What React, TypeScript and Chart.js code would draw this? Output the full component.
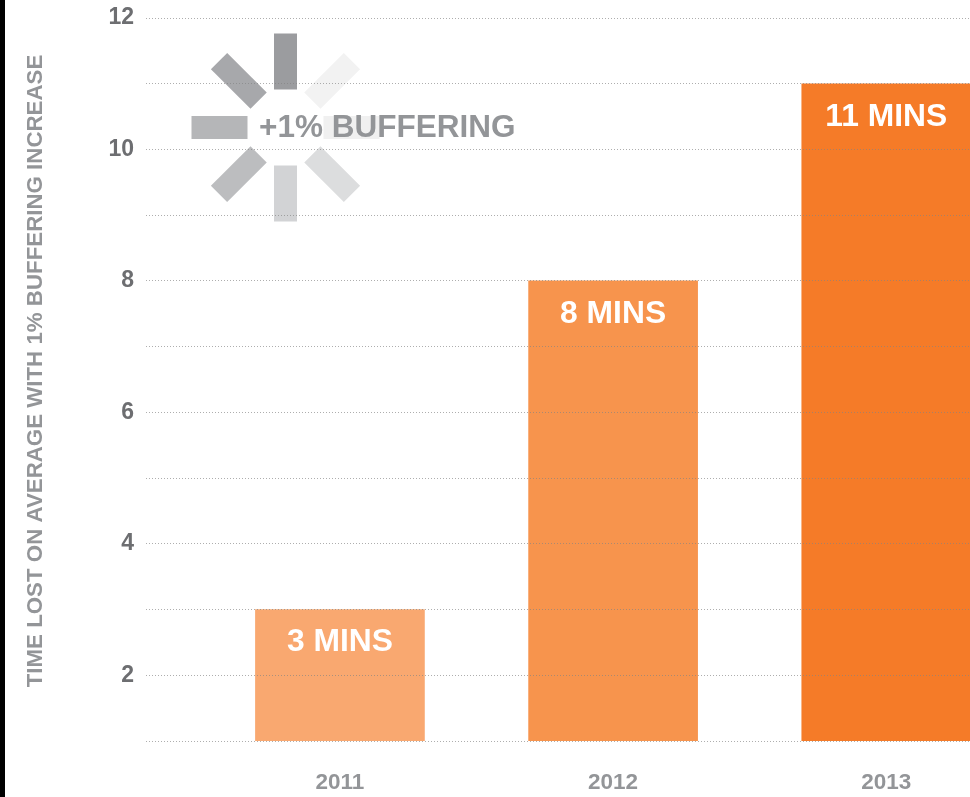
import React, { useEffect, useRef } from "react";
import { Chart, registerables } from "chart.js";

Chart.register(...registerables);

const years = [2011, 2012, 2013];
const minutes = [3, 8, 11];
const barColors = ["#f9a870", "#f7944d", "#f57b28"];
const barLabels = ["3 MINS", "8 MINS", "11 MINS"];
const yTickLabels = [2, 4, 6, 8, 10, 12];
const axisTitle = "TIME LOST ON AVERAGE WITH 1% BUFFERING INCREASE";
const badgeText = "+1% BUFFERING";
const spokeColors = ["#9b9c9f", "#f2f2f2", "#f0f0f0", "#dcddde", "#d2d3d5", "#bcbdbf", "#b5b6b8", "#a7a8ab"];

const FONT = '"Liberation Sans", Arial, sans-serif';

const overlay = {
  id: "overlay",
  afterDatasetsDraw(chart: any) {
    const { ctx } = chart;
    ctx.save();
    // spinner
    const cx = 285.5, cy = 127.5;
    spokeColors.forEach((c, i) => {
      ctx.save();
      ctx.translate(cx, cy);
      ctx.rotate((i * Math.PI) / 4);
      ctx.fillStyle = c;
      ctx.fillRect(-11.5, -94, 23, 56);
      ctx.restore();
    });
    ctx.fillStyle = "#939598";
    ctx.font = `bold 31.5px ${FONT}`;
    ctx.textAlign = "left";
    ctx.textBaseline = "middle";
    ctx.fillText(badgeText, 259, 128);
    // axis title
    ctx.save();
    ctx.translate(36, 371);
    ctx.rotate(-Math.PI / 2);
    ctx.textAlign = "center";
    ctx.font = `bold 22.3px ${FONT}`;
    ctx.fillText(axisTitle, 0, 0);
    ctx.restore();
    // value labels
    const meta = chart.getDatasetMeta(0);
    ctx.fillStyle = "#ffffff";
    ctx.font = `bold 31.8px ${FONT}`;
    ctx.textAlign = "center";
    meta.data.forEach((el: any, i: number) => {
      ctx.fillText(barLabels[i], el.x, el.y + 33);
    });
    ctx.restore();
  },
};

export default function App() {
  const ref = useRef<HTMLCanvasElement>(null);
  useEffect(() => {
    const chart = new Chart(ref.current!, {
      type: "bar",
      data: {
        datasets: [
          {
            data: years.map((y, i) => ({ x: y, y: minutes[i] })),
            backgroundColor: barColors,
            barThickness: 169,
            borderWidth: 0,
          },
        ],
      },
      options: {
        animation: false,
        responsive: false,
        layout: { padding: { top: 18, left: 0, right: 0, bottom: 0 } },
        plugins: { legend: { display: false }, tooltip: { enabled: false } },
        scales: {
          x: {
            type: "linear",
            offset: false,
            min: 2010.29,
            max: 2013.3065,
            border: { display: false },
            grid: { display: false, drawTicks: false },
            afterFit(s: any) {
              s.height = 56;
              s.paddingLeft = 0;
              s.paddingRight = 0;
            },
            ticks: {
              stepSize: 1,
              includeBounds: false,
              maxRotation: 0,
              color: "#939598",
              padding: 28,
              font: { family: FONT, size: 22.5, weight: "bold" },
              callback: (v: any) => (years.includes(Number(v)) ? String(v) : ""),
            },
          },
          y: {
            type: "linear",
            min: 1,
            max: 12,
            border: { display: false, dash: [1, 2] },
            grid: {
              color: "rgba(130,130,130,0.65)",
              lineWidth: 1,
              drawTicks: false,
              z: 1,
            },
            afterFit(s: any) {
              s.width = 146;
              s.paddingTop = 0;
              s.paddingBottom = 0;
            },
            ticks: {
              stepSize: 1,
              color: "#6d6e71",
              padding: 12,
              font: { family: FONT, size: 23, weight: "bold" },
              callback: (v: any) => (yTickLabels.includes(Number(v)) ? String(v) : ""),
            },
          },
        },
      } as any,
      plugins: [overlay],
    });
    return () => chart.destroy();
  }, []);
  return (
    <div style={{ position: "absolute", left: 0, top: 0, width: 970, height: 797, overflow: "hidden", background: "#fff" }}>
      <canvas ref={ref} width={970} height={797} style={{ position: "absolute", left: 0, top: 0 }} />
      <div style={{ position: "absolute", left: 0, top: 0, width: 5, height: 797, background: "#000" }} />
    </div>
  );
}
